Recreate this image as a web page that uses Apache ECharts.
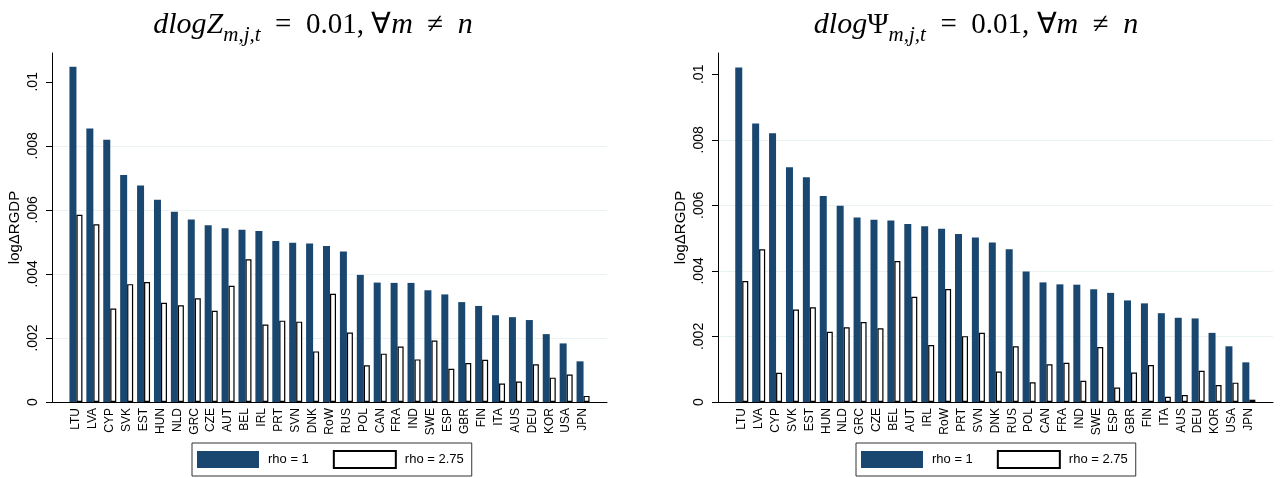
<!DOCTYPE html>
<html>
<head>
<meta charset="utf-8">
<style>
  html, body { margin: 0; padding: 0; background: #fff; }
  #chart { width: 1280px; height: 478px; }
</style>
<script src="https://cdn.jsdelivr.net/npm/echarts@6/dist/echarts.min.js"></script>
</head>
<body>
<div id="chart"></div>
<script>
// Left panel: shock to Z
const countriesZ = ['LTU','LVA','CYP','SVK','EST','HUN','NLD','GRC','CZE','AUT','BEL','IRL','PRT','SVN','DNK','RoW','RUS','POL','CAN','FRA','IND','SWE','ESP','GBR','FIN','ITA','AUS','DEU','KOR','USA','JPN'];
const rho1Z    = [0.01047,0.00854,0.00819,0.00709,0.00676,0.00632,0.00594,0.00570,0.00552,0.00543,0.00538,0.00534,0.00503,0.00497,0.00495,0.00487,0.00470,0.00397,0.00373,0.00372,0.00372,0.00349,0.00336,0.00312,0.00300,0.00271,0.00265,0.00256,0.00212,0.00183,0.00127];
const rho275Z  = [0.00585,0.00555,0.00292,0.00368,0.00375,0.00310,0.00302,0.00324,0.00285,0.00363,0.00446,0.00242,0.00254,0.00251,0.00158,0.00338,0.00217,0.00115,0.00151,0.00173,0.00133,0.00192,0.00104,0.00122,0.00132,0.00058,0.00064,0.00118,0.00076,0.00086,0.00019];

// Right panel: shock to Psi
const countriesPsi = ['LTU','LVA','CYP','SVK','EST','HUN','NLD','GRC','CZE','BEL','AUT','IRL','RoW','PRT','SVN','DNK','RUS','POL','CAN','FRA','IND','SWE','ESP','GBR','FIN','ITA','AUS','DEU','KOR','USA','JPN'];
const rho1Psi   = [0.01021,0.00850,0.00820,0.00716,0.00686,0.00629,0.00599,0.00563,0.00556,0.00554,0.00543,0.00536,0.00529,0.00513,0.00502,0.00487,0.00466,0.00398,0.00365,0.00359,0.00358,0.00344,0.00333,0.00310,0.00301,0.00271,0.00257,0.00255,0.00211,0.00170,0.00121];
const rho275Psi = [0.00369,0.00466,0.00089,0.00282,0.00289,0.00214,0.00228,0.00244,0.00225,0.00430,0.00321,0.00174,0.00345,0.00201,0.00211,0.00093,0.00170,0.00060,0.00115,0.00120,0.00065,0.00168,0.00044,0.00090,0.00113,0.00016,0.00021,0.00095,0.00052,0.00059,0.00007];

const yTicks = [0, 0.002, 0.004, 0.006, 0.008, 0.01];
const seriesNames = ['rho = 1', 'rho = 2.75'];
const yTitle = 'log\u0394RGDP';
// math-style titles; en spaces give the wider relation spacing
const titleZ = '{i|dlogZ}{s|m,j,t}{u|\u2002=\u20020.01, \u2200}{i|m}{u|\u2002\u2260\u2002}{i|n}';
const titlePsi = '{i|dlog}{u|\u03A8}{s|m,j,t}{u|\u2002=\u20020.01, \u2200}{i|m}{u|\u2002\u2260\u2002}{i|n}';

const NAVY = '#1a476f';
const GRIDC = '#eaf2f3';
const SANS = 'Liberation Sans, Arial, sans-serif';
const SERIF = 'Liberation Serif, Times New Roman, serif';

function fmtTick(v) {
  if (v === 0) return '0';
  return String(parseFloat(v.toFixed(4))).replace(/^0\./, '.');
}

const titleRich = {
  i: { fontFamily: SERIF, fontStyle: 'italic', fontWeight: 'normal', fontSize: 30, color: '#000', verticalAlign: 'bottom', padding: [0, 0, 6, 0] },
  u: { fontFamily: SERIF, fontWeight: 'normal', fontSize: 29, color: '#000', verticalAlign: 'bottom', padding: [0, 0, 6, 0] },
  s: { fontFamily: SERIF, fontStyle: 'italic', fontWeight: 'normal', fontSize: 21, color: '#000', verticalAlign: 'bottom' }
};

// panel layout: frame = full plot region with axes; bars = inner band for the category axis
const panels = [
  { frameLeft: 52, barsLeft: 67.5, ymax: 0.0109, cats: countriesZ, a: rho1Z, b: rho275Z, title: titleZ, titleX: 308, legendLeft: 192 },
  { frameLeft: 718, barsLeft: 733.3, ymax: 0.01065, cats: countriesPsi, a: rho1Psi, b: rho275Psi, title: titlePsi, titleX: 971, legendLeft: 856 }
];

const TOP = 53, HEIGHT = 349, FRAME_W = 555, BARS_W = 524;

const option = {
  backgroundColor: '#fff',
  animation: false,
  title: [], legend: [], grid: [], xAxis: [], yAxis: [], series: []
};

panels.forEach((p) => {
  const gFrame = option.grid.length;
  option.grid.push({ left: p.frameLeft, top: TOP, width: FRAME_W, height: HEIGHT, containLabel: false });
  option.grid.push({ left: p.barsLeft, top: TOP, width: BARS_W, height: HEIGHT, containLabel: false });
  const gBars = gFrame + 1;

  option.title.push({
    text: p.title, left: p.titleX, top: 5, textAlign: 'center',
    textStyle: { fontWeight: 'normal', rich: titleRich }
  });

  // frame axes
  option.xAxis.push({
    type: 'value', gridIndex: gFrame, min: 0, max: 1,
    axisLine: { show: true, onZero: false, lineStyle: { color: '#000', width: 1 } },
    axisTick: { show: false }, axisLabel: { show: false }, splitLine: { show: false }
  });
  option.yAxis.push({
    type: 'value', gridIndex: gFrame, min: 0, max: p.ymax, interval: 0.002,
    name: yTitle, nameLocation: 'middle', nameGap: 30, nameRotate: 90,
    nameTextStyle: { fontFamily: SANS, fontSize: 15, color: '#000' },
    axisLine: { show: true, lineStyle: { color: '#000', width: 1 } },
    axisTick: { show: true, length: 6, customValues: yTicks, lineStyle: { color: '#000' } },
    axisLabel: { show: true, customValues: yTicks, rotate: 90, margin: 12, fontFamily: SANS, fontSize: 14, color: '#000', formatter: fmtTick },
    splitLine: { show: true, showMinLine: false, showMaxLine: false, lineStyle: { color: GRIDC, width: 1 } }
  });

  // bar axes
  const xb = option.xAxis.length;
  option.xAxis.push({
    type: 'category', gridIndex: gBars, data: p.cats,
    axisLine: { show: false }, axisTick: { show: false }, splitLine: { show: false },
    axisLabel: { interval: 0, rotate: 90, margin: 6, fontFamily: SANS, fontSize: 12, color: '#000' }
  });
  const yb = option.yAxis.length;
  option.yAxis.push({
    type: 'value', gridIndex: gBars, min: 0, max: p.ymax, show: false, splitLine: { show: false }
  });

  option.series.push({
    name: seriesNames[0], type: 'bar', xAxisIndex: xb, yAxisIndex: yb, data: p.a,
    barWidth: 7, barGap: '0%', itemStyle: { color: NAVY }
  });
  option.series.push({
    name: seriesNames[1], type: 'bar', xAxisIndex: xb, yAxisIndex: yb, data: p.b,
    barWidth: 6, barGap: '0%', itemStyle: { color: '#fff', borderColor: '#000', borderWidth: 1.2 }
  });

  option.legend.push({
    data: seriesNames, left: p.legendLeft, top: 443, orient: 'horizontal',
    icon: 'rect', itemWidth: 62, itemHeight: 17, itemGap: 24,
    padding: [7, 8, 7, 5], borderColor: '#333', borderWidth: 1, selectedMode: false,
    textStyle: { fontFamily: SANS, fontSize: 13, color: '#000', padding: [0, 0, 0, 4] }
  });
});

const chart = echarts.init(document.getElementById('chart'), null, { renderer: 'canvas' });
chart.setOption(option);
</script>
</body>
</html>
